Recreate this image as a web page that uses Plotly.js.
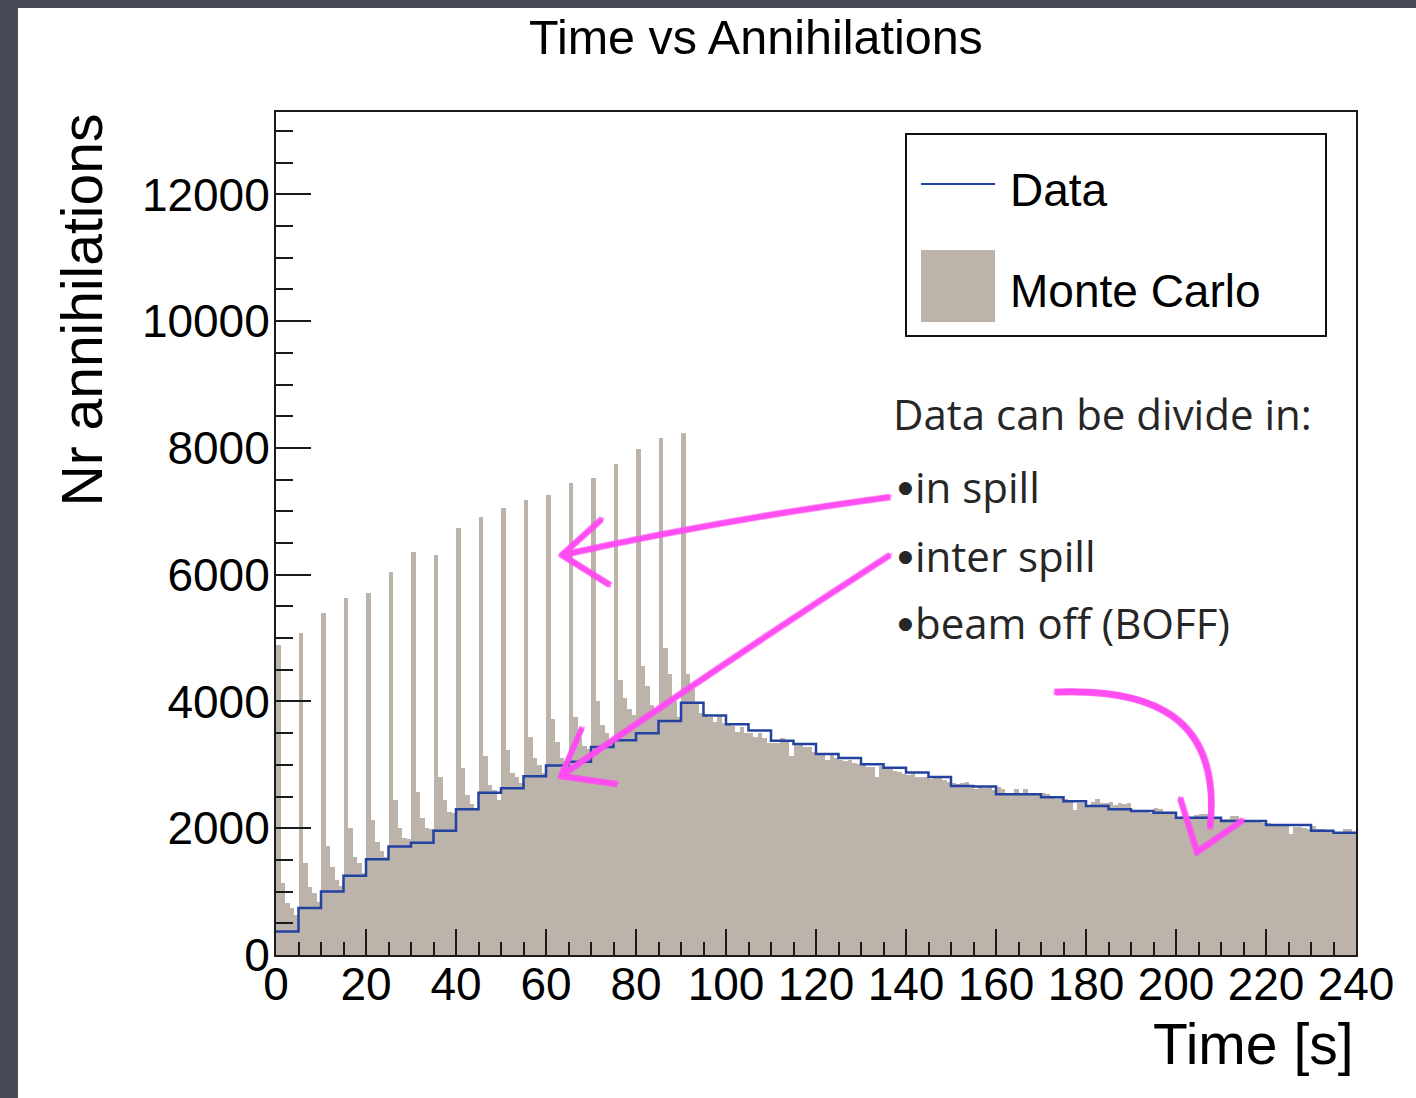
<!DOCTYPE html>
<html><head><meta charset="utf-8">
<script src="https://cdn.plot.ly/plotly-3.0.1.min.js"></script>
<style>
html,body{margin:0;padding:0;background:#474b58;width:1416px;height:1098px;overflow:hidden;}
#chart{position:absolute;left:18px;top:8px;width:1398px;height:1090px;background:#fff;}
</style></head><body><div id="chart"></div>
<script>
// ---- data ----
const mcBinWidth = 1;    // seconds per Monte Carlo bin
const dataBinWidth = 5;  // seconds per data bin

// Monte Carlo counts, one value per 1 s bin (0..240 s)
const mcCounts = [
  4890,1140,825,736,631, 5073,1446,1077,983,841,
  5389,1724,1393,1183,1088, 5626,1998,1541,1446,1288,
  5705,2129,1787,1645,1551, 6046,2445,1998,1850,1824,
  6362,2576,2156,2008,1982, 6309,2812,2445,2260,2234,
  6730,2944,2524,2382,2298, 6913,3135,2680,2600,2450,
  7050,3230,2866,2813,2708, 7177,3443,3102,2997,2866,
  7260,3730,3365,3102,3060, 7450,3760,3420,3290,3245,
  7524,4000,3630,3500,3400, 7740,4338,4050,3880,3780,
  7976,4560,4245,3940,3830, 8159,4840,4430,4000,3750,
  8238,4440,4200,3970,3812,3800,3760,3680,3770,3665,
  3665,3612,3523,3601,3507,3496,3444,3496,3417,3349,
  3339,3339,3417,3381,3139,3312,3339,3286,3286,3207,
  3170,3181,3076,3155,3102,3076,3065,3076,3034,3013,
  2997,2960,2960,2813,2981,2960,2929,2907,2892,2855,
  2839,2855,2813,2813,2802,2776,2787,2813,2760,2734,
  2718,2697,2708,2734,2666,2613,2645,2629,2645,2603,
  2645,2620,2530,2560,2613,2550,2613,2550,2550,2539,
  2550,2539,2497,2455,2471,2455,2418,2287,2392,2403,
  2340,2418,2455,2392,2392,2418,2366,2392,2382,2392,
  2277,2277,2261,2250,2245,2313,2298,2261,2245,2234,
  2140,2192,2192,2171,2208,2224,2224,2192,2182,2171,
  2140,2140,2192,2192,2129,2119,2103,2103,2103,2087,
  2087,2066,2050,2035,2066,1909,2024,2024,1998,1982,
  2035,1982,1982,1972,1972,1945,1930,1982,1982,1909
];

// Data counts, one value per 5 s bin
const dataCounts = [
  370,740,1000,1250,1510,1710,1770,1960,2300,2560,
  2630,2820,2990,3050,3280,3390,3500,3690,3980,3780,
  3640,3540,3380,3330,3170,3110,3010,2955,2880,2810,
  2665,2660,2535,2535,2490,2425,2350,2300,2270,2245,
  2165,2165,2115,2115,2050,2050,1960,1930
];

const xTickVals = [0,20,40,60,80,100,120,140,160,180,200,220,240];
const yTickVals = [0,2000,4000,6000,8000,10000,12000];

const chartTitle = "Time vs Annihilations";
const xTitle = "Time [s]";
const yTitle = "Nr annihilations";
const legendLabels = ["Data", "Monte Carlo"];
const noteHeader = "Data can be divide in:";
const noteItems = ["in spill", "inter spill", "beam off (BOFF)"];

// ---- styling ----
const ROOTFONT = "Liberation Sans, Arial, Helvetica, sans-serif";
const NOTEFONT = "Open Sans, sans-serif";
const mcColor = "#bcb4ab";
const dataColor = "#2342a0";
const inkColor = "#ff4cf2";

// page pixel -> paper fraction (plot area spans x 276..1356, y 112..955 on the page)
const fx = p => (p - 276) / 1080;
const fy = p => (955 - p) / 843;
const P = (x, y) => fx(x).toFixed(5) + "," + fy(y).toFixed(5);

// ---- traces ----
const mcX = mcCounts.map((_, i) => (i + 0.5) * mcBinWidth);
const mcTrace = {
  type: "bar", x: mcX, y: mcCounts, width: mcBinWidth,
  marker: {color: mcColor, line: {width: 0}},
  name: legendLabels[1], showlegend: false, hoverinfo: "x+y"
};

const dataX = dataCounts.map((_, i) => i * dataBinWidth).concat([dataCounts.length * dataBinWidth]);
const dataY = dataCounts.concat([dataCounts[dataCounts.length - 1]]);
const dataTrace = {
  type: "scatter", mode: "lines", x: dataX, y: dataY,
  line: {shape: "hv", color: dataColor, width: 2.5},
  name: legendLabels[0], showlegend: false
};

// ---- hand-drawn arrows ----
function roughCopies(d, width) {
  const offs = [[0,0],[1.8,-1.2],[-1.5,1.5],[0.8,2],[-1,-1.8]];
  return offs.map(([ox, oy], k) => ({
    type: "path", xref: "paper", yref: "paper", layer: "above",
    path: d(ox, oy), line: {color: inkColor, width: k === 0 ? width : width * 0.6}, opacity: k === 0 ? 0.9 : 0.6
  }));
}
const arrow1 = (ox, oy) => "M" + P(890+ox, 497+oy) + " Q" + P(720+ox, 520+oy) + " " + P(562+ox, 555+oy);
const arrow1h = (ox, oy) => "M" + P(602+ox, 519+oy) + " L" + P(562+ox, 555+oy) + " L" + P(610+ox, 585+oy);
const arrow2 = (ox, oy) => "M" + P(890+ox, 555+oy) + " Q" + P(720+ox, 665+oy) + " " + P(561+ox, 776+oy);
const arrow2h = (ox, oy) => "M" + P(582+ox, 728+oy) + " L" + P(561+ox, 776+oy) + " L" + P(617+ox, 784+oy);
const arrow3 = (ox, oy) => "M" + P(1055+ox, 692+oy) + " C" + P(1150+ox, 688+oy) + " " + P(1222+ox, 715+oy) + " " + P(1210+ox, 828+oy);
const arrow3h = (ox, oy) => "M" + P(1180+ox, 798+oy) + " L" + P(1197+ox, 852+oy) + " L" + P(1243+ox, 820+oy);

const shapes = [].concat(
  // legend box
  [{type: "rect", xref: "paper", yref: "paper", x0: fx(906), x1: fx(1326), y0: fy(336), y1: fy(134),
    line: {color: "#111", width: 2}, fillcolor: "#ffffff", layer: "above"},
   {type: "line", xref: "paper", yref: "paper", x0: fx(921), x1: fx(995), y0: fy(184), y1: fy(184),
    line: {color: dataColor, width: 2}, layer: "above"},
   {type: "rect", xref: "paper", yref: "paper", x0: fx(921), x1: fx(995), y0: fy(322), y1: fy(250),
    line: {width: 0}, fillcolor: mcColor, layer: "above"}],
  roughCopies(arrow1, 5), roughCopies(arrow1h, 5),
  roughCopies(arrow2, 5), roughCopies(arrow2h, 5),
  roughCopies(arrow3, 6), roughCopies(arrow3h, 5)
);

const annotations = [
  {xref: "paper", yref: "paper", x: fx(81), y: 1, xanchor: "center", yanchor: "top",
   textangle: -90, text: yTitle, showarrow: false, font: {family: ROOTFONT, size: 57, color: "#000"}},
  {xref: "paper", yref: "paper", x: 1, y: fy(1044), xanchor: "right", yanchor: "middle",
   text: xTitle, showarrow: false, font: {family: ROOTFONT, size: 57, color: "#000"}},
  {xref: "paper", yref: "paper", x: fx(1008), y: fy(190), xanchor: "left", yanchor: "middle",
   text: legendLabels[0], showarrow: false, font: {family: ROOTFONT, size: 46, color: "#000"}},
  {xref: "paper", yref: "paper", x: fx(1008), y: fy(291), xanchor: "left", yanchor: "middle",
   text: legendLabels[1], showarrow: false, font: {family: ROOTFONT, size: 46, color: "#000"}},
  {xref: "paper", yref: "paper", x: fx(891), y: fy(414), xanchor: "left", yanchor: "middle",
   text: noteHeader, showarrow: false, font: {family: NOTEFONT, size: 42, color: "#262626"}}
];
const noteY = [486, 555, 622];
noteItems.forEach((t, i) => {
  annotations.push({
    xref: "paper", yref: "paper", x: fx(896), y: fy(noteY[i] + 1), xanchor: "left", yanchor: "middle",
    text: "\u25CF", showarrow: false, font: {family: "DejaVu Sans, sans-serif", size: 17, color: "#262626"}
  });
  annotations.push({
    xref: "paper", yref: "paper", x: fx(913), y: fy(noteY[i]), xanchor: "left", yanchor: "middle",
    text: t, showarrow: false, font: {family: NOTEFONT, size: 42, color: "#262626"}
  });
});

const axisCommon = {
  ticks: "inside", tickwidth: 2, tickcolor: "#1a1a1a",
  showline: true, linecolor: "#1a1a1a", linewidth: 2, mirror: true,
  showgrid: false, zeroline: false,
  tickfont: {family: ROOTFONT, size: 46, color: "#000"}
};

const layout = {
  width: 1398, height: 1090,
  margin: {l: 258, r: 60, t: 104, b: 143, pad: 0},
  paper_bgcolor: "#ffffff", plot_bgcolor: "#ffffff",
  showlegend: false, bargap: 0, barmode: "overlay",
  title: {text: chartTitle, xref: "paper", x: fx(756), xanchor: "center",
          yref: "container", y: 1 - (37 - 8) / 1090, yanchor: "middle",
          font: {family: ROOTFONT, size: 48.5, color: "#000"}},
  xaxis: Object.assign({}, axisCommon, {
    range: [0, 240], tickvals: xTickVals, ticktext: xTickVals.map(String), ticklen: 26,
    ticklabelstandoff: -12,
    minor: {dtick: 5, ticks: "inside", ticklen: 13, tickwidth: 2, tickcolor: "#1a1a1a", showgrid: false}
  }),
  yaxis: Object.assign({}, axisCommon, {
    range: [0, 13300], tickvals: yTickVals, ticktext: yTickVals.map(String), ticklen: 35,
    ticklabelstandoff: -5,
    minor: {dtick: 500, ticks: "inside", ticklen: 17, tickwidth: 2, tickcolor: "#1a1a1a", showgrid: false}
  }),
  shapes: shapes,
  annotations: annotations
};

Plotly.newPlot("chart", [mcTrace, dataTrace], layout, {displayModeBar: false, staticPlot: true});
</script>
</body></html>
